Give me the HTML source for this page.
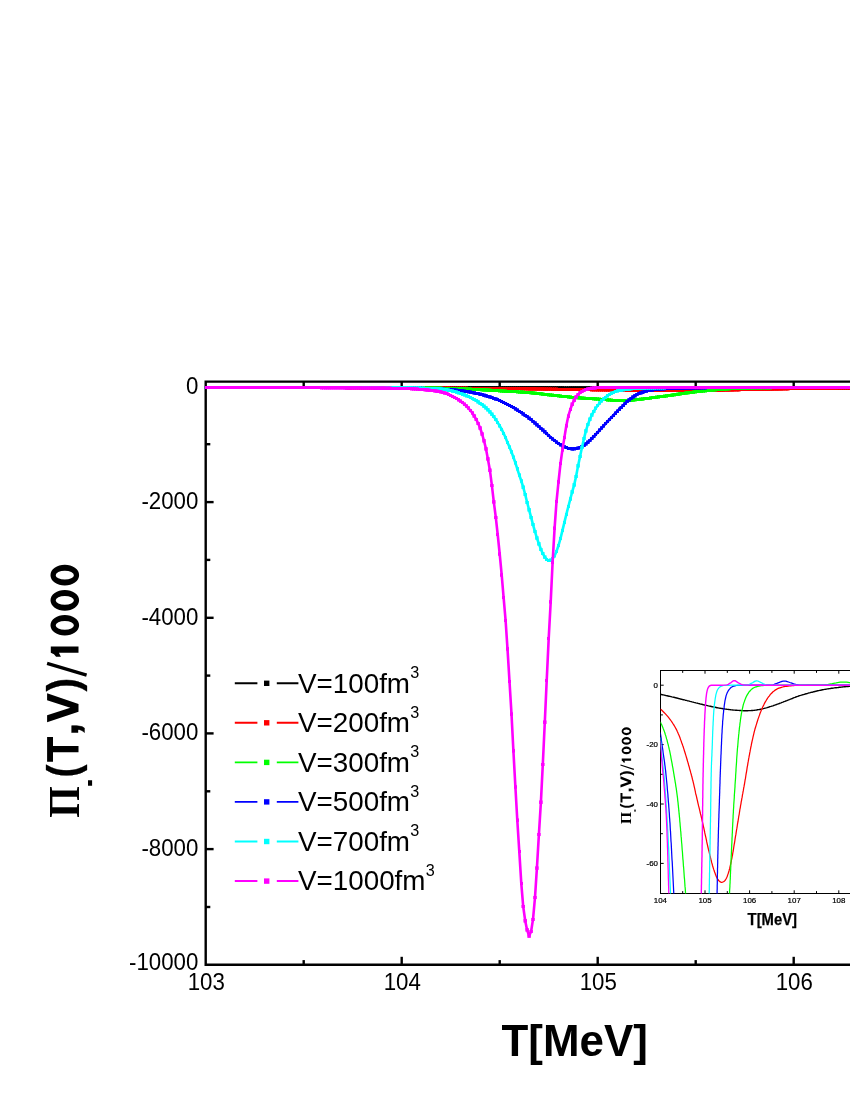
<!DOCTYPE html>
<html><head><meta charset="utf-8"><title>chart</title>
<style>html,body{margin:0;padding:0;background:#fff}svg{display:block;will-change:transform}text{font-family:"Liberation Sans",sans-serif;fill:#000}.ser{font-family:"Liberation Serif",serif}</style></head><body>
<svg width="850" height="1100" viewBox="0 0 850 1100">
<rect width="850" height="1100" fill="#fff"/>
<g stroke="#000" stroke-width="2.4" fill="none" stroke-linecap="butt">
<path d="M855 381.6H205.7V964.7H855" stroke-linejoin="miter"/>
<path d="M303.7 964.7v-4.6"/>
<path d="M303.7 381.6v4.6"/>
<path d="M401.7 964.7v-7.9"/>
<path d="M401.7 381.6v7.9"/>
<path d="M499.7 964.7v-4.6"/>
<path d="M499.7 381.6v4.6"/>
<path d="M597.7 964.7v-7.9"/>
<path d="M597.7 381.6v7.9"/>
<path d="M695.7 964.7v-4.6"/>
<path d="M695.7 381.6v4.6"/>
<path d="M793.7 964.7v-7.9"/>
<path d="M793.7 381.6v7.9"/>
<path d="M205.7 444.2h4.6"/>
<path d="M205.7 502.1h7.9"/>
<path d="M205.7 559.9h4.6"/>
<path d="M205.7 617.8h7.9"/>
<path d="M205.7 675.6h4.6"/>
<path d="M205.7 733.4h7.9"/>
<path d="M205.7 791.3h4.6"/>
<path d="M205.7 849.1h7.9"/>
<path d="M205.7 907.0h4.6"/>
</g>
<defs>
<marker id="sqblack" markerUnits="userSpaceOnUse" markerWidth="3.5" markerHeight="3.5" refX="1.75" refY="1.75" orient="0"><rect width="3.5" height="3.5" fill="#000000"/></marker>
<marker id="sqred" markerUnits="userSpaceOnUse" markerWidth="3.5" markerHeight="3.5" refX="1.75" refY="1.75" orient="0"><rect width="3.5" height="3.5" fill="#ff0000"/></marker>
<marker id="sqgreen" markerUnits="userSpaceOnUse" markerWidth="3.5" markerHeight="3.5" refX="1.75" refY="1.75" orient="0"><rect width="3.5" height="3.5" fill="#00ff00"/></marker>
<marker id="sqblue" markerUnits="userSpaceOnUse" markerWidth="3.5" markerHeight="3.5" refX="1.75" refY="1.75" orient="0"><rect width="3.5" height="3.5" fill="#0000ff"/></marker>
<marker id="sqcyan" markerUnits="userSpaceOnUse" markerWidth="3.5" markerHeight="3.5" refX="1.75" refY="1.75" orient="0"><rect width="3.5" height="3.5" fill="#00ffff"/></marker>
<marker id="sqmag" markerUnits="userSpaceOnUse" markerWidth="3.5" markerHeight="3.5" refX="1.75" refY="1.75" orient="0"><rect width="3.5" height="3.5" fill="#ff00ff"/></marker>
</defs>
<clipPath id="mc"><rect x="204.8" y="383" width="660" height="581"/></clipPath>
<g clip-path="url(#mc)">
<path d="M205.7,387.6 207.7,387.6 209.6,387.6 211.6,387.6 213.5,387.6 215.5,387.6 217.5,387.6 219.4,387.6 221.4,387.6 223.3,387.6 225.3,387.6 227.3,387.6 229.2,387.6 231.2,387.6 233.1,387.6 235.1,387.6 237.1,387.6 239.0,387.6 241.0,387.6 242.9,387.6 244.9,387.6 246.9,387.6 248.8,387.6 250.8,387.6 252.7,387.6 254.7,387.6 256.7,387.6 258.6,387.6 260.6,387.6 262.5,387.6 264.5,387.6 266.5,387.6 268.4,387.6 270.4,387.6 272.3,387.6 274.3,387.6 276.3,387.6 278.2,387.6 280.2,387.6 282.1,387.6 284.1,387.6 286.1,387.6 288.0,387.6 290.0,387.6 291.9,387.6 293.9,387.6 295.9,387.6 297.8,387.6 299.8,387.6 301.7,387.6 303.7,387.6 305.7,387.6 307.6,387.6 309.6,387.6 311.5,387.6 313.5,387.6 315.5,387.6 317.4,387.6 319.4,387.6 321.3,387.6 323.3,387.6 325.3,387.6 327.2,387.6 329.2,387.6 331.1,387.6 333.1,387.6 335.1,387.6 337.0,387.6 339.0,387.6 340.9,387.6 342.9,387.6 344.9,387.6 346.8,387.7 348.8,387.7 350.7,387.7 352.7,387.7 354.7,387.7 356.6,387.7 358.6,387.7 360.5,387.7 362.5,387.7 364.5,387.7 366.4,387.7 368.4,387.7 370.3,387.7 372.3,387.7 374.3,387.7 376.2,387.7 378.2,387.7 380.1,387.7 382.1,387.7 384.1,387.7 386.0,387.7 388.0,387.7 389.9,387.7 391.9,387.7 393.9,387.7 395.8,387.7 397.8,387.7 399.7,387.7 401.7,387.7 403.7,387.7 405.6,387.7 407.6,387.7 409.5,387.7 411.5,387.7 413.5,387.7 415.4,387.7 417.4,387.7 419.3,387.7 421.3,387.8 423.3,387.8 425.2,387.8 427.2,387.8 429.1,387.8 431.1,387.8 433.1,387.8 435.0,387.8 437.0,387.8 438.9,387.8 440.9,387.8 442.9,387.8 444.8,387.8 446.8,387.8 448.7,387.8 450.7,387.8 452.7,387.8 454.6,387.8 456.6,387.8 458.5,387.8 460.5,387.8 462.5,387.8 464.4,387.8 466.4,387.8 468.3,387.8 470.3,387.9 472.3,387.9 474.2,387.9 476.2,387.9 478.1,387.9 480.1,387.9 482.1,387.9 484.0,387.9 486.0,387.9 487.9,387.9 489.9,387.9 491.9,387.9 493.8,387.9 495.8,387.9 497.7,387.9 499.7,387.9 501.7,387.9 503.6,387.9 505.6,387.9 507.5,387.9 509.5,387.9 511.5,387.9 513.4,387.9 515.4,387.9 517.3,387.9 519.3,387.9 521.3,387.9 523.2,387.9 525.2,387.9 527.1,387.9 529.1,387.9 531.1,387.9 533.0,387.9 535.0,387.9 536.9,387.9 538.9,387.9 540.9,387.9 542.8,387.9 544.8,387.9 546.7,387.9 548.7,387.9 550.7,387.9 552.6,387.9 554.6,387.9 556.5,387.9 558.5,387.9 560.5,387.9 562.4,387.9 564.4,388.0 566.3,388.0 568.3,388.0 570.3,388.0 572.2,388.0 574.2,388.0 576.1,388.0 578.1,388.0 580.1,388.0 582.0,388.0 584.0,388.0 585.9,388.0 587.9,388.0 589.9,388.0 591.8,388.0 593.8,388.0 595.7,388.0 597.7,388.0 599.7,388.0 601.6,388.0 603.6,388.0 605.5,388.0 607.5,388.0 609.5,388.0 611.4,388.0 613.4,388.0 615.3,388.0 617.3,388.0 619.3,388.0 621.2,388.0 623.2,388.0 625.1,388.0 627.1,388.0 629.1,388.0 631.0,388.0 633.0,388.0 634.9,388.0 636.9,388.0 638.9,388.0 640.8,388.0 642.8,388.0 644.7,388.0 646.7,388.0 648.7,388.0 650.6,388.0 652.6,388.0 654.5,388.0 656.5,388.0 658.5,388.0 660.4,388.0 662.4,388.0 664.3,388.0 666.3,388.1 668.3,388.1 670.2,388.1 672.2,388.1 674.1,388.1 676.1,388.1 678.1,388.1 680.0,388.1 682.0,388.1 683.9,388.1 685.9,388.1 687.9,388.1 689.8,388.1 691.8,388.1 693.7,388.1 695.7,388.1 697.7,388.1 699.6,388.1 701.6,388.1 703.5,388.1 705.5,388.1 707.5,388.1 709.4,388.1 711.4,388.1 713.3,388.1 715.3,388.1 717.3,388.1 719.2,388.1 721.2,388.1 723.1,388.1 725.1,388.1 727.1,388.1 729.0,388.1 731.0,388.1 732.9,388.1 734.9,388.1 736.9,388.1 738.8,388.1 740.8,388.1 742.7,388.1 744.7,388.1 746.7,388.1 748.6,388.1 750.6,388.1 752.5,388.1 754.5,388.1 756.5,388.1 758.4,388.1 760.4,388.1 762.3,388.1 764.3,388.1 766.3,388.1 768.2,388.1 770.2,388.1 772.1,388.1 774.1,388.1 776.1,388.1 778.0,388.1 780.0,388.1 781.9,388.1 783.9,388.1 785.9,388.1 787.8,388.1 789.8,388.1 791.7,388.1 793.7,388.1 795.7,388.1 797.6,388.1 799.6,388.1 801.5,388.1 803.5,388.1 805.5,388.1 807.4,388.1 809.4,388.1 811.3,388.1 813.3,388.1 815.3,388.1 817.2,388.1 819.2,388.1 821.1,388.1 823.1,388.1 825.1,388.1 827.0,388.1 829.0,388.1 830.9,388.1 832.9,388.1 834.9,388.1 836.8,388.1 838.8,388.1 840.7,388.1 842.7,388.1 844.7,388.1 846.6,388.1 848.6,388.1 850.5,388.1 852.5,388.1" stroke="#000000" stroke-width="2.6" fill="none" stroke-linejoin="round" marker-start="url(#sqblack)" marker-mid="url(#sqblack)" marker-end="url(#sqblack)"/>
<path d="M205.7,387.6 207.7,387.6 209.6,387.6 211.6,387.6 213.5,387.6 215.5,387.6 217.5,387.6 219.4,387.6 221.4,387.6 223.3,387.6 225.3,387.6 227.3,387.6 229.2,387.6 231.2,387.6 233.1,387.6 235.1,387.6 237.1,387.6 239.0,387.6 241.0,387.6 242.9,387.6 244.9,387.6 246.9,387.6 248.8,387.6 250.8,387.6 252.7,387.6 254.7,387.6 256.7,387.6 258.6,387.6 260.6,387.6 262.5,387.6 264.5,387.6 266.5,387.6 268.4,387.6 270.4,387.6 272.3,387.6 274.3,387.6 276.3,387.6 278.2,387.6 280.2,387.6 282.1,387.6 284.1,387.6 286.1,387.6 288.0,387.6 290.0,387.6 291.9,387.6 293.9,387.6 295.9,387.6 297.8,387.6 299.8,387.6 301.7,387.7 303.7,387.7 305.7,387.7 307.6,387.7 309.6,387.7 311.5,387.7 313.5,387.7 315.5,387.7 317.4,387.7 319.4,387.7 321.3,387.7 323.3,387.7 325.3,387.7 327.2,387.7 329.2,387.7 331.1,387.7 333.1,387.7 335.1,387.7 337.0,387.7 339.0,387.7 340.9,387.7 342.9,387.7 344.9,387.7 346.8,387.8 348.8,387.8 350.7,387.8 352.7,387.8 354.7,387.8 356.6,387.8 358.6,387.8 360.5,387.8 362.5,387.8 364.5,387.8 366.4,387.8 368.4,387.8 370.3,387.8 372.3,387.8 374.3,387.8 376.2,387.9 378.2,387.9 380.1,387.9 382.1,387.9 384.1,387.9 386.0,387.9 388.0,387.9 389.9,387.9 391.9,387.9 393.9,387.9 395.8,387.9 397.8,387.9 399.7,387.9 401.7,387.9 403.7,388.0 405.6,388.0 407.6,388.0 409.5,388.0 411.5,388.0 413.5,388.0 415.4,388.0 417.4,388.0 419.3,388.0 421.3,388.0 423.3,388.0 425.2,388.0 427.2,388.0 429.1,388.1 431.1,388.1 433.1,388.1 435.0,388.1 437.0,388.1 438.9,388.1 440.9,388.1 442.9,388.1 444.8,388.1 446.8,388.1 448.7,388.1 450.7,388.2 452.7,388.2 454.6,388.2 456.6,388.2 458.5,388.2 460.5,388.2 462.5,388.2 464.4,388.2 466.4,388.2 468.3,388.3 470.3,388.3 472.3,388.3 474.2,388.3 476.2,388.3 478.1,388.3 480.1,388.3 482.1,388.4 484.0,388.4 486.0,388.4 487.9,388.4 489.9,388.4 491.9,388.4 493.8,388.5 495.8,388.5 497.7,388.5 499.7,388.5 501.7,388.5 503.6,388.6 505.6,388.6 507.5,388.6 509.5,388.6 511.5,388.6 513.4,388.7 515.4,388.7 517.3,388.7 519.3,388.7 521.3,388.8 523.2,388.8 525.2,388.8 527.1,388.8 529.1,388.9 531.1,388.9 533.0,388.9 535.0,388.9 536.9,389.0 538.9,389.0 540.9,389.0 542.8,389.0 544.8,389.1 546.7,389.1 548.7,389.1 550.7,389.1 552.6,389.2 554.6,389.2 556.5,389.2 558.5,389.3 560.5,389.3 562.4,389.3 564.4,389.4 566.3,389.4 568.3,389.4 570.3,389.4 572.2,389.5 574.2,389.5 576.1,389.5 578.1,389.6 580.1,389.6 582.0,389.6 584.0,389.6 585.9,389.7 587.9,389.7 589.9,389.7 591.8,389.8 593.8,389.8 595.7,389.8 597.7,389.9 599.7,389.9 601.6,389.9 603.6,389.9 605.5,390.0 607.5,390.0 609.5,390.0 611.4,390.1 613.4,390.1 615.3,390.1 617.3,390.2 619.3,390.2 621.2,390.2 623.2,390.2 625.1,390.3 627.1,390.3 629.1,390.3 631.0,390.3 633.0,390.4 634.9,390.4 636.9,390.4 638.9,390.4 640.8,390.4 642.8,390.5 644.7,390.5 646.7,390.5 648.7,390.5 650.6,390.5 652.6,390.5 654.5,390.6 656.5,390.6 658.5,390.6 660.4,390.6 662.4,390.6 664.3,390.6 666.3,390.6 668.3,390.6 670.2,390.6 672.2,390.6 674.1,390.6 676.1,390.6 678.1,390.6 680.0,390.6 682.0,390.6 683.9,390.6 685.9,390.6 687.9,390.6 689.8,390.5 691.8,390.5 693.7,390.5 695.7,390.5 697.7,390.5 699.6,390.5 701.6,390.4 703.5,390.4 705.5,390.4 707.5,390.4 709.4,390.3 711.4,390.3 713.3,390.3 715.3,390.2 717.3,390.2 719.2,390.2 721.2,390.1 723.1,390.1 725.1,390.0 727.1,390.0 729.0,390.0 731.0,389.9 732.9,389.9 734.9,389.8 736.9,389.8 738.8,389.8 740.8,389.7 742.7,389.7 744.7,389.6 746.7,389.6 748.6,389.5 750.6,389.5 752.5,389.5 754.5,389.4 756.5,389.4 758.4,389.3 760.4,389.3 762.3,389.3 764.3,389.2 766.3,389.2 768.2,389.2 770.2,389.1 772.1,389.1 774.1,389.0 776.1,389.0 778.0,389.0 780.0,388.9 781.9,388.9 783.9,388.8 785.9,388.8 787.8,388.8 789.8,388.7 791.7,388.7 793.7,388.6 795.7,388.6 797.6,388.6 799.6,388.5 801.5,388.5 803.5,388.5 805.5,388.4 807.4,388.4 809.4,388.4 811.3,388.3 813.3,388.3 815.3,388.3 817.2,388.3 819.2,388.2 821.1,388.2 823.1,388.2 825.1,388.2 827.0,388.2 829.0,388.1 830.9,388.1 832.9,388.1 834.9,388.1 836.8,388.1 838.8,388.0 840.7,388.0 842.7,388.0 844.7,388.0 846.6,388.0 848.6,388.0 850.5,387.9 852.5,387.9" stroke="#ff0000" stroke-width="2.6" fill="none" stroke-linejoin="round" marker-start="url(#sqred)" marker-mid="url(#sqred)" marker-end="url(#sqred)"/>
<path d="M205.7,387.6 207.7,387.6 209.6,387.6 211.6,387.6 213.5,387.6 215.5,387.6 217.5,387.6 219.4,387.6 221.4,387.6 223.3,387.6 225.3,387.6 227.3,387.6 229.2,387.6 231.2,387.6 233.1,387.6 235.1,387.6 237.1,387.6 239.0,387.6 241.0,387.6 242.9,387.6 244.9,387.6 246.9,387.6 248.8,387.6 250.8,387.6 252.7,387.6 254.7,387.6 256.7,387.6 258.6,387.6 260.6,387.6 262.5,387.6 264.5,387.6 266.5,387.6 268.4,387.6 270.4,387.6 272.3,387.6 274.3,387.6 276.3,387.6 278.2,387.6 280.2,387.6 282.1,387.6 284.1,387.6 286.1,387.6 288.0,387.6 290.0,387.6 291.9,387.6 293.9,387.6 295.9,387.6 297.8,387.6 299.8,387.6 301.7,387.6 303.7,387.6 305.7,387.6 307.6,387.6 309.6,387.7 311.5,387.7 313.5,387.7 315.5,387.7 317.4,387.7 319.4,387.7 321.3,387.7 323.3,387.7 325.3,387.7 327.2,387.7 329.2,387.7 331.1,387.7 333.1,387.7 335.1,387.7 337.0,387.7 339.0,387.7 340.9,387.7 342.9,387.7 344.9,387.7 346.8,387.7 348.8,387.7 350.7,387.7 352.7,387.7 354.7,387.7 356.6,387.7 358.6,387.7 360.5,387.7 362.5,387.7 364.5,387.7 366.4,387.7 368.4,387.7 370.3,387.7 372.3,387.7 374.3,387.7 376.2,387.8 378.2,387.8 380.1,387.8 382.1,387.8 384.1,387.8 386.0,387.8 388.0,387.8 389.9,387.8 391.9,387.8 393.9,387.8 395.8,387.8 397.8,387.8 399.7,387.8 401.7,387.8 403.7,387.8 405.6,387.8 407.6,387.8 409.5,387.8 411.5,387.9 413.5,387.9 415.4,387.9 417.4,387.9 419.3,387.9 421.3,388.0 423.3,388.0 425.2,388.0 427.2,388.0 429.1,388.1 431.1,388.1 433.1,388.1 435.0,388.1 437.0,388.2 438.9,388.2 440.9,388.2 442.9,388.3 444.8,388.3 446.8,388.4 448.7,388.4 450.7,388.4 452.7,388.5 454.6,388.5 456.6,388.6 458.5,388.6 460.5,388.7 462.5,388.8 464.4,388.9 466.4,389.0 468.3,389.1 470.3,389.2 472.3,389.3 474.2,389.4 476.2,389.5 478.1,389.6 480.1,389.7 482.1,389.8 484.0,389.9 486.0,390.0 487.9,390.1 489.9,390.2 491.9,390.4 493.8,390.5 495.8,390.6 497.7,390.7 499.7,390.8 501.7,391.0 503.6,391.1 505.6,391.2 507.5,391.3 509.5,391.4 511.5,391.5 513.4,391.6 515.4,391.7 517.3,391.8 519.3,392.0 521.3,392.1 523.2,392.2 525.2,392.3 527.1,392.5 529.1,392.6 531.1,392.8 533.0,393.0 535.0,393.2 536.9,393.4 538.9,393.6 540.9,393.8 542.8,394.1 544.8,394.3 546.7,394.5 548.7,394.8 550.7,395.0 552.6,395.2 554.6,395.4 556.5,395.6 558.5,395.8 560.5,396.1 562.4,396.3 564.4,396.5 566.3,396.7 568.3,396.9 570.3,397.1 572.2,397.3 574.2,397.5 576.1,397.6 578.1,397.8 580.1,397.9 582.0,398.1 584.0,398.2 585.9,398.3 587.9,398.4 589.9,398.6 591.8,398.7 593.8,398.8 595.7,398.9 597.7,399.0 599.7,399.2 601.6,399.3 603.6,399.5 605.5,399.7 607.5,399.9 609.5,400.0 611.4,400.2 613.4,400.3 615.3,400.3 617.3,400.4 619.3,400.4 621.2,400.5 623.2,400.5 625.1,400.5 627.1,400.4 629.1,400.3 631.0,400.2 633.0,400.0 634.9,399.8 636.9,399.6 638.9,399.4 640.8,399.2 642.8,399.0 644.7,398.7 646.7,398.5 648.7,398.3 650.6,398.0 652.6,397.7 654.5,397.5 656.5,397.2 658.5,396.9 660.4,396.7 662.4,396.4 664.3,396.2 666.3,395.9 668.3,395.6 670.2,395.4 672.2,395.1 674.1,394.8 676.1,394.5 678.1,394.2 680.0,393.9 682.0,393.6 683.9,393.3 685.9,393.0 687.9,392.8 689.8,392.5 691.8,392.3 693.7,392.1 695.7,391.8 697.7,391.6 699.6,391.4 701.6,391.2 703.5,391.0 705.5,390.8 707.5,390.6 709.4,390.3 711.4,390.1 713.3,390.0 715.3,389.8 717.3,389.6 719.2,389.5 721.2,389.3 723.1,389.2 725.1,389.1 727.1,388.9 729.0,388.8 731.0,388.7 732.9,388.6 734.9,388.5 736.9,388.4 738.8,388.3 740.8,388.3 742.7,388.2 744.7,388.2 746.7,388.1 748.6,388.1 750.6,388.0 752.5,388.0 754.5,387.9 756.5,387.9 758.4,387.9 760.4,387.9 762.3,387.8 764.3,387.8 766.3,387.8 768.2,387.8 770.2,387.8 772.1,387.7 774.1,387.7 776.1,387.7 778.0,387.7 780.0,387.7 781.9,387.7 783.9,387.7 785.9,387.6 787.8,387.6 789.8,387.6 791.7,387.6 793.7,387.6 795.7,387.6 797.6,387.6 799.6,387.6 801.5,387.6 803.5,387.6 805.5,387.6 807.4,387.6 809.4,387.6 811.3,387.6 813.3,387.6 815.3,387.6 817.2,387.6 819.2,387.6 821.1,387.6 823.1,387.6 825.1,387.6 827.0,387.6 829.0,387.6 830.9,387.6 832.9,387.6 834.9,387.6 836.8,387.6 838.8,387.6 840.7,387.6 842.7,387.6 844.7,387.6 846.6,387.6 848.6,387.6 850.5,387.6 852.5,387.6" stroke="#00ff00" stroke-width="2.6" fill="none" stroke-linejoin="round" marker-start="url(#sqgreen)" marker-mid="url(#sqgreen)" marker-end="url(#sqgreen)"/>
<path d="M205.7,387.6 207.7,387.6 209.6,387.6 211.6,387.6 213.5,387.6 215.5,387.6 217.5,387.6 219.4,387.6 221.4,387.6 223.3,387.6 225.3,387.6 227.3,387.6 229.2,387.6 231.2,387.6 233.1,387.6 235.1,387.6 237.1,387.6 239.0,387.6 241.0,387.6 242.9,387.6 244.9,387.6 246.9,387.6 248.8,387.6 250.8,387.6 252.7,387.6 254.7,387.6 256.7,387.6 258.6,387.6 260.6,387.6 262.5,387.6 264.5,387.6 266.5,387.6 268.4,387.6 270.4,387.6 272.3,387.6 274.3,387.6 276.3,387.6 278.2,387.6 280.2,387.6 282.1,387.6 284.1,387.6 286.1,387.6 288.0,387.6 290.0,387.6 291.9,387.6 293.9,387.6 295.9,387.6 297.8,387.6 299.8,387.6 301.7,387.6 303.7,387.6 305.7,387.6 307.6,387.6 309.6,387.6 311.5,387.6 313.5,387.6 315.5,387.7 317.4,387.7 319.4,387.7 321.3,387.7 323.3,387.7 325.3,387.7 327.2,387.7 329.2,387.7 331.1,387.7 333.1,387.7 335.1,387.7 337.0,387.7 339.0,387.7 340.9,387.7 342.9,387.7 344.9,387.7 346.8,387.7 348.8,387.7 350.7,387.7 352.7,387.7 354.7,387.7 356.6,387.7 358.6,387.7 360.5,387.7 362.5,387.7 364.5,387.7 366.4,387.7 368.4,387.7 370.3,387.7 372.3,387.7 374.3,387.7 376.2,387.7 378.2,387.7 380.1,387.8 382.1,387.8 384.1,387.8 386.0,387.8 388.0,387.8 389.9,387.8 391.9,387.8 393.9,387.8 395.8,387.8 397.8,387.8 399.7,387.8 401.7,387.8 403.7,387.8 405.6,387.8 407.6,387.9 409.5,387.9 411.5,387.9 413.5,388.0 415.4,388.0 417.4,388.1 419.3,388.2 421.3,388.2 423.3,388.3 425.2,388.3 427.2,388.4 429.1,388.5 431.1,388.5 433.1,388.6 435.0,388.7 437.0,388.8 438.9,388.9 440.9,389.0 442.9,389.1 444.8,389.3 446.8,389.4 448.7,389.5 450.7,389.7 452.7,389.8 454.6,390.0 456.6,390.2 458.5,390.4 460.5,390.6 462.5,390.9 464.4,391.2 466.4,391.5 468.3,391.8 470.3,392.1 472.3,392.5 474.2,392.9 476.2,393.3 478.1,393.7 480.1,394.2 482.1,394.7 484.0,395.2 486.0,395.8 487.9,396.3 489.9,396.9 491.9,397.6 493.8,398.3 495.8,399.0 497.7,399.7 499.7,400.5 501.7,401.4 503.6,402.3 505.6,403.3 507.5,404.4 509.5,405.4 511.5,406.6 513.4,407.7 515.4,408.9 517.3,410.1 519.3,411.3 521.3,412.6 523.2,414.0 525.2,415.3 527.1,416.7 529.1,418.2 531.1,419.7 533.0,421.4 535.0,423.0 536.9,424.8 538.9,426.5 540.9,428.3 542.8,430.0 544.8,431.8 546.7,433.7 548.7,435.5 550.7,437.3 552.6,439.0 554.6,440.6 556.5,442.1 558.5,443.5 560.5,444.8 562.4,445.9 564.4,446.9 566.3,447.7 568.3,448.3 570.3,448.6 572.2,448.9 574.2,448.8 576.1,448.5 578.1,448.1 580.1,447.5 582.0,446.5 584.0,445.3 585.9,443.9 587.9,442.2 589.9,440.4 591.8,438.5 593.8,436.5 595.7,434.4 597.7,432.3 599.7,430.1 601.6,428.0 603.6,425.9 605.5,423.7 607.5,421.6 609.5,419.4 611.4,417.3 613.4,415.3 615.3,413.2 617.3,411.2 619.3,409.2 621.2,407.3 623.2,405.3 625.1,403.4 627.1,401.5 629.1,399.9 631.0,398.4 633.0,397.0 634.9,395.8 636.9,394.7 638.9,393.7 640.8,392.9 642.8,392.2 644.7,391.6 646.7,391.1 648.7,390.6 650.6,390.3 652.6,390.0 654.5,389.7 656.5,389.5 658.5,389.3 660.4,389.1 662.4,389.0 664.3,388.8 666.3,388.7 668.3,388.6 670.2,388.5 672.2,388.4 674.1,388.3 676.1,388.3 678.1,388.2 680.0,388.2 682.0,388.1 683.9,388.1 685.9,388.0 687.9,388.0 689.8,387.9 691.8,387.9 693.7,387.9 695.7,387.8 697.7,387.8 699.6,387.8 701.6,387.8 703.5,387.8 705.5,387.8 707.5,387.7 709.4,387.7 711.4,387.7 713.3,387.7 715.3,387.7 717.3,387.7 719.2,387.7 721.2,387.7 723.1,387.6 725.1,387.6 727.1,387.6 729.0,387.6 731.0,387.6 732.9,387.6 734.9,387.6 736.9,387.6 738.8,387.6 740.8,387.6 742.7,387.6 744.7,387.6 746.7,387.6 748.6,387.6 750.6,387.6 752.5,387.6 754.5,387.6 756.5,387.6 758.4,387.6 760.4,387.6 762.3,387.6 764.3,387.6 766.3,387.6 768.2,387.6 770.2,387.6 772.1,387.6 774.1,387.6 776.1,387.6 778.0,387.6 780.0,387.6 781.9,387.6 783.9,387.6 785.9,387.6 787.8,387.6 789.8,387.6 791.7,387.6 793.7,387.6 795.7,387.6 797.6,387.6 799.6,387.6 801.5,387.6 803.5,387.6 805.5,387.6 807.4,387.6 809.4,387.6 811.3,387.6 813.3,387.6 815.3,387.6 817.2,387.6 819.2,387.6 821.1,387.6 823.1,387.6 825.1,387.6 827.0,387.6 829.0,387.6 830.9,387.6 832.9,387.6 834.9,387.6 836.8,387.6 838.8,387.6 840.7,387.6 842.7,387.6 844.7,387.6 846.6,387.6 848.6,387.6 850.5,387.6 852.5,387.6" stroke="#0000ff" stroke-width="2.6" fill="none" stroke-linejoin="round" marker-start="url(#sqblue)" marker-mid="url(#sqblue)" marker-end="url(#sqblue)"/>
<path d="M205.7,387.6 207.7,387.6 209.6,387.6 211.6,387.6 213.5,387.6 215.5,387.6 217.5,387.6 219.4,387.6 221.4,387.6 223.3,387.6 225.3,387.6 227.3,387.6 229.2,387.6 231.2,387.6 233.1,387.6 235.1,387.6 237.1,387.6 239.0,387.6 241.0,387.6 242.9,387.6 244.9,387.6 246.9,387.6 248.8,387.6 250.8,387.6 252.7,387.6 254.7,387.6 256.7,387.6 258.6,387.6 260.6,387.6 262.5,387.6 264.5,387.6 266.5,387.6 268.4,387.6 270.4,387.6 272.3,387.6 274.3,387.6 276.3,387.6 278.2,387.6 280.2,387.6 282.1,387.6 284.1,387.6 286.1,387.6 288.0,387.6 290.0,387.6 291.9,387.6 293.9,387.6 295.9,387.6 297.8,387.6 299.8,387.6 301.7,387.6 303.7,387.6 305.7,387.6 307.6,387.6 309.6,387.6 311.5,387.6 313.5,387.6 315.5,387.7 317.4,387.7 319.4,387.7 321.3,387.7 323.3,387.7 325.3,387.7 327.2,387.7 329.2,387.7 331.1,387.7 333.1,387.7 335.1,387.7 337.0,387.7 339.0,387.7 340.9,387.7 342.9,387.7 344.9,387.7 346.8,387.7 348.8,387.7 350.7,387.7 352.7,387.7 354.7,387.7 356.6,387.7 358.6,387.7 360.5,387.7 362.5,387.7 364.5,387.7 366.4,387.7 368.4,387.7 370.3,387.7 372.3,387.7 374.3,387.7 376.2,387.7 378.2,387.8 380.1,387.8 382.1,387.8 384.1,387.8 386.0,387.8 388.0,387.8 389.9,387.8 391.9,387.8 393.9,387.8 395.8,387.8 397.8,387.8 399.7,387.8 401.7,387.8 403.7,387.8 405.6,387.8 407.6,387.9 409.5,387.9 411.5,387.9 413.5,388.0 415.4,388.0 417.4,388.0 419.3,388.1 421.3,388.2 423.3,388.2 425.2,388.3 427.2,388.4 429.1,388.4 431.1,388.5 433.1,388.6 435.0,388.7 437.0,388.8 438.9,388.9 440.9,389.0 442.9,389.2 444.8,389.4 446.8,389.8 448.7,390.2 450.7,390.6 452.7,391.1 454.6,391.6 456.6,392.1 458.5,392.8 460.5,393.4 462.5,394.2 464.4,394.9 466.4,395.8 468.3,396.6 470.3,397.6 472.3,398.6 474.2,399.6 476.2,400.7 478.1,401.9 480.1,403.3 482.1,404.7 484.0,406.2 486.0,407.9 487.9,409.8 489.9,411.9 491.9,414.2 493.8,416.7 495.8,419.5 497.7,422.6 499.7,425.8 501.7,429.4 503.6,433.3 505.6,437.7 507.5,442.4 509.5,447.1 511.5,451.9 513.4,457.2 515.4,462.8 517.3,468.8 519.3,475.1 521.3,481.0 523.2,487.2 525.2,494.5 527.1,502.3 529.1,509.8 531.1,517.4 533.0,524.7 535.0,531.6 536.9,538.0 538.9,543.9 540.9,549.3 542.8,553.7 544.8,557.1 546.7,559.3 548.7,560.6 550.7,560.2 552.6,558.6 554.6,555.8 556.5,551.4 558.5,545.5 560.5,538.5 562.4,530.6 564.4,522.4 566.3,514.5 568.3,506.7 570.3,499.0 572.2,491.9 574.2,484.9 576.1,476.3 578.1,465.8 580.1,456.3 582.0,447.3 584.0,438.6 585.9,430.9 587.9,424.4 589.9,419.2 591.8,415.0 593.8,411.4 595.7,408.2 597.7,405.5 599.7,403.0 601.6,400.9 603.6,399.0 605.5,397.3 607.5,395.8 609.5,394.4 611.4,393.2 613.4,392.3 615.3,391.5 617.3,390.9 619.3,390.5 621.2,390.1 623.2,389.8 625.1,389.5 627.1,389.3 629.1,389.1 631.0,388.8 633.0,388.6 634.9,388.5 636.9,388.4 638.9,388.3 640.8,388.2 642.8,388.1 644.7,388.1 646.7,388.0 648.7,388.0 650.6,387.9 652.6,387.9 654.5,387.9 656.5,387.8 658.5,387.8 660.4,387.8 662.4,387.8 664.3,387.8 666.3,387.7 668.3,387.7 670.2,387.7 672.2,387.7 674.1,387.7 676.1,387.7 678.1,387.7 680.0,387.7 682.0,387.6 683.9,387.6 685.9,387.6 687.9,387.6 689.8,387.6 691.8,387.6 693.7,387.6 695.7,387.6 697.7,387.6 699.6,387.6 701.6,387.6 703.5,387.6 705.5,387.6 707.5,387.6 709.4,387.6 711.4,387.6 713.3,387.6 715.3,387.6 717.3,387.6 719.2,387.6 721.2,387.6 723.1,387.6 725.1,387.6 727.1,387.6 729.0,387.6 731.0,387.6 732.9,387.6 734.9,387.6 736.9,387.6 738.8,387.6 740.8,387.6 742.7,387.6 744.7,387.6 746.7,387.6 748.6,387.6 750.6,387.6 752.5,387.6 754.5,387.6 756.5,387.6 758.4,387.6 760.4,387.6 762.3,387.6 764.3,387.6 766.3,387.6 768.2,387.6 770.2,387.6 772.1,387.6 774.1,387.6 776.1,387.6 778.0,387.6 780.0,387.6 781.9,387.6 783.9,387.6 785.9,387.6 787.8,387.6 789.8,387.6 791.7,387.6 793.7,387.6 795.7,387.6 797.6,387.6 799.6,387.6 801.5,387.6 803.5,387.6 805.5,387.6 807.4,387.6 809.4,387.6 811.3,387.6 813.3,387.6 815.3,387.6 817.2,387.6 819.2,387.6 821.1,387.6 823.1,387.6 825.1,387.6 827.0,387.6 829.0,387.6 830.9,387.6 832.9,387.6 834.9,387.6 836.8,387.6 838.8,387.6 840.7,387.6 842.7,387.6 844.7,387.6 846.6,387.6 848.6,387.6 850.5,387.6 852.5,387.6" stroke="#00ffff" stroke-width="2.6" fill="none" stroke-linejoin="round" marker-start="url(#sqcyan)" marker-mid="url(#sqcyan)" marker-end="url(#sqcyan)"/>
<path d="M205.7,387.6 207.7,387.6 209.6,387.6 211.6,387.6 213.5,387.6 215.5,387.6 217.5,387.6 219.4,387.6 221.4,387.6 223.3,387.6 225.3,387.6 227.3,387.6 229.2,387.6 231.2,387.6 233.1,387.6 235.1,387.6 237.1,387.6 239.0,387.6 241.0,387.6 242.9,387.6 244.9,387.6 246.9,387.6 248.8,387.6 250.8,387.6 252.7,387.6 254.7,387.6 256.7,387.6 258.6,387.6 260.6,387.6 262.5,387.6 264.5,387.6 266.5,387.6 268.4,387.6 270.4,387.7 272.3,387.7 274.3,387.7 276.3,387.7 278.2,387.7 280.2,387.7 282.1,387.7 284.1,387.7 286.1,387.7 288.0,387.7 290.0,387.7 291.9,387.7 293.9,387.7 295.9,387.7 297.8,387.7 299.8,387.7 301.7,387.7 303.7,387.7 305.7,387.7 307.6,387.7 309.6,387.7 311.5,387.7 313.5,387.7 315.5,387.7 317.4,387.7 319.4,387.7 321.3,387.8 323.3,387.8 325.3,387.8 327.2,387.8 329.2,387.8 331.1,387.8 333.1,387.8 335.1,387.8 337.0,387.8 339.0,387.8 340.9,387.8 342.9,387.8 344.9,387.9 346.8,387.9 348.8,387.9 350.7,387.9 352.7,387.9 354.7,387.9 356.6,387.9 358.6,387.9 360.5,387.9 362.5,388.0 364.5,388.0 366.4,388.0 368.4,388.0 370.3,388.0 372.3,388.0 374.3,388.1 376.2,388.1 378.2,388.1 380.1,388.1 382.1,388.1 384.1,388.1 386.0,388.2 388.0,388.2 389.9,388.2 391.9,388.3 393.9,388.3 395.8,388.3 397.8,388.4 399.7,388.4 401.7,388.5 403.7,388.5 405.6,388.6 407.6,388.6 409.5,388.7 411.5,388.8 413.5,388.9 415.4,389.0 417.4,389.1 419.3,389.3 421.3,389.4 423.3,389.6 425.2,389.8 427.2,390.0 429.1,390.2 431.1,390.4 433.1,390.7 435.0,390.9 437.0,391.2 438.9,391.5 440.9,391.9 442.9,392.4 444.8,393.0 446.8,393.7 448.7,394.5 450.7,395.4 452.7,396.4 454.6,397.4 456.6,398.5 458.5,399.8 460.5,401.1 462.5,402.6 464.4,404.2 466.4,406.0 468.3,408.0 470.3,410.3 472.3,413.0 474.2,416.0 476.2,419.4 478.1,423.3 480.1,428.0 482.1,434.0 484.0,440.8 486.0,448.9 487.9,458.9 489.9,470.2 491.9,485.7 493.8,501.9 495.8,517.4 497.7,534.5 499.7,554.0 501.7,575.0 503.6,597.4 505.6,620.5 507.5,648.9 509.5,681.5 511.5,714.1 513.4,750.8 515.4,787.0 517.3,820.2 519.3,851.7 521.3,883.6 523.2,906.4 525.2,920.8 527.1,929.9 529.1,936.1 531.1,931.5 533.0,919.4 535.0,897.5 536.9,868.1 538.9,834.3 540.9,802.2 542.8,764.4 544.8,722.2 546.7,680.6 548.7,638.4 550.7,601.9 552.6,562.3 554.6,528.2 556.5,501.7 558.5,481.9 560.5,463.5 562.4,449.9 564.4,437.6 566.3,425.8 568.3,416.2 570.3,409.5 572.2,404.2 574.2,400.2 576.1,396.9 578.1,394.5 580.1,392.7 582.0,391.4 584.0,390.4 585.9,389.6 587.9,389.0 589.9,388.6 591.8,388.2 593.8,388.0 595.7,387.8 597.7,387.7 599.7,387.6 601.6,387.6 603.6,387.5 605.5,387.5 607.5,387.5 609.5,387.5 611.4,387.5 613.4,387.5 615.3,387.5 617.3,387.5 619.3,387.5 621.2,387.5 623.2,387.5 625.1,387.5 627.1,387.5 629.1,387.5 631.0,387.5 633.0,387.5 634.9,387.5 636.9,387.5 638.9,387.5 640.8,387.5 642.8,387.5 644.7,387.5 646.7,387.5 648.7,387.5 650.6,387.5 652.6,387.5 654.5,387.5 656.5,387.5 658.5,387.5 660.4,387.5 662.4,387.5 664.3,387.5 666.3,387.5 668.3,387.5 670.2,387.5 672.2,387.5 674.1,387.5 676.1,387.5 678.1,387.5 680.0,387.5 682.0,387.5 683.9,387.5 685.9,387.5 687.9,387.5 689.8,387.5 691.8,387.5 693.7,387.5 695.7,387.5 697.7,387.5 699.6,387.5 701.6,387.5 703.5,387.5 705.5,387.5 707.5,387.5 709.4,387.5 711.4,387.5 713.3,387.5 715.3,387.5 717.3,387.5 719.2,387.5 721.2,387.5 723.1,387.5 725.1,387.5 727.1,387.5 729.0,387.5 731.0,387.5 732.9,387.5 734.9,387.5 736.9,387.5 738.8,387.5 740.8,387.5 742.7,387.5 744.7,387.5 746.7,387.5 748.6,387.5 750.6,387.5 752.5,387.5 754.5,387.5 756.5,387.5 758.4,387.5 760.4,387.5 762.3,387.5 764.3,387.5 766.3,387.5 768.2,387.5 770.2,387.5 772.1,387.5 774.1,387.5 776.1,387.5 778.0,387.5 780.0,387.5 781.9,387.5 783.9,387.5 785.9,387.5 787.8,387.5 789.8,387.5 791.7,387.5 793.7,387.5 795.7,387.5 797.6,387.5 799.6,387.5 801.5,387.5 803.5,387.5 805.5,387.5 807.4,387.5 809.4,387.5 811.3,387.5 813.3,387.5 815.3,387.5 817.2,387.5 819.2,387.5 821.1,387.5 823.1,387.5 825.1,387.5 827.0,387.5 829.0,387.5 830.9,387.5 832.9,387.5 834.9,387.5 836.8,387.5 838.8,387.5 840.7,387.5 842.7,387.5 844.7,387.5 846.6,387.5 848.6,387.5 850.5,387.5 852.5,387.5" stroke="#ff00ff" stroke-width="2.6" fill="none" stroke-linejoin="round" marker-start="url(#sqmag)" marker-mid="url(#sqmag)" marker-end="url(#sqmag)"/>
</g>
<g font-size="22.3px">
<text transform="translate(198.4 394.0) scale(1 1.045)" text-anchor="end">0</text>
<text transform="translate(198.4 509.1) scale(1 1.045)" text-anchor="end">-2000</text>
<text transform="translate(198.4 624.8) scale(1 1.045)" text-anchor="end">-4000</text>
<text transform="translate(198.4 740.4) scale(1 1.045)" text-anchor="end">-6000</text>
<text transform="translate(198.4 856.1) scale(1 1.045)" text-anchor="end">-8000</text>
<text transform="translate(198.4 970.4) scale(1 1.045)" text-anchor="end">-10000</text>
<text transform="translate(206.3 990.3) scale(1 1.045)" text-anchor="middle">103</text>
<text transform="translate(402.3 990.3) scale(1 1.045)" text-anchor="middle">104</text>
<text transform="translate(598.3 990.3) scale(1 1.045)" text-anchor="middle">105</text>
<text transform="translate(794.3 990.3) scale(1 1.045)" text-anchor="middle">106</text>
</g>
<g>
<path d="M234.8 683.3H257.4M276.8 683.3H298.4" stroke="#000000" stroke-width="1.9" fill="none"/>
<rect x="264.0" y="680.6" width="5.4" height="5.4" fill="#000000"/>
<text x="298.0" y="692.7" font-size="27.8px">V=100fm<tspan font-size="16.2px" dx="0.3" dy="-14.6">3</tspan></text>
<path d="M234.8 722.8H257.4M276.8 722.8H298.4" stroke="#ff0000" stroke-width="1.9" fill="none"/>
<rect x="264.0" y="720.1" width="5.4" height="5.4" fill="#ff0000"/>
<text x="298.0" y="732.2" font-size="27.8px">V=200fm<tspan font-size="16.2px" dx="0.3" dy="-14.6">3</tspan></text>
<path d="M234.8 762.4H257.4M276.8 762.4H298.4" stroke="#00ff00" stroke-width="1.9" fill="none"/>
<rect x="264.0" y="759.7" width="5.4" height="5.4" fill="#00ff00"/>
<text x="298.0" y="771.8" font-size="27.8px">V=300fm<tspan font-size="16.2px" dx="0.3" dy="-14.6">3</tspan></text>
<path d="M234.8 801.9H257.4M276.8 801.9H298.4" stroke="#0000ff" stroke-width="1.9" fill="none"/>
<rect x="264.0" y="799.2" width="5.4" height="5.4" fill="#0000ff"/>
<text x="298.0" y="811.3" font-size="27.8px">V=500fm<tspan font-size="16.2px" dx="0.3" dy="-14.6">3</tspan></text>
<path d="M234.8 841.5H257.4M276.8 841.5H298.4" stroke="#00ffff" stroke-width="1.9" fill="none"/>
<rect x="264.0" y="838.8" width="5.4" height="5.4" fill="#00ffff"/>
<text x="298.0" y="850.9" font-size="27.8px">V=700fm<tspan font-size="16.2px" dx="0.3" dy="-14.6">3</tspan></text>
<path d="M234.8 881.0H257.4M276.8 881.0H298.4" stroke="#ff00ff" stroke-width="1.9" fill="none"/>
<rect x="264.0" y="878.4" width="5.4" height="5.4" fill="#ff00ff"/>
<text x="298.0" y="890.4" font-size="27.8px">V=1000fm<tspan font-size="16.2px" dx="0.3" dy="-14.6">3</tspan></text>
</g>
<text x="501.5" y="1055.8" font-size="43.9px" font-weight="bold">T[MeV]</text>
<g transform="translate(78.5 817.05) rotate(-90) scale(1 1)" fill="#000"><text transform="translate(0.00 0.00) scale(0.9094 1.0110) translate(-0.89 0)" font-size="44.7px" font-weight="bold" style="font-family:'Liberation Serif',serif">Π</text><rect x="31.3" y="9.5" width="5.5" height="4.1"/><text transform="translate(41.50 -0.47) scale(0.8726 0.9975) translate(-2.24 0)" font-size="44.7px" font-weight="bold" style="font-family:'Liberation Sans',sans-serif" stroke="#000" stroke-width="0.3" stroke-linejoin="round">(</text><path d="M55.3 -31.4H80.0V-25.5H71.1V0H64.9V-25.5H55.3Z"/><text transform="translate(84.50 -0.53) scale(1.0638 0.9567) translate(-3.04 0)" font-size="44.7px" font-weight="bold" style="font-family:'Liberation Sans',sans-serif" stroke="#000" stroke-width="0.4" stroke-linejoin="round">,</text><path d="M94.7 -31.4H101.9L109.2 -8.2L116.9 -31.4H123.8L113.1 0H105.4Z"/><text transform="translate(125.70 -0.47) scale(0.9123 0.9975) translate(-0.04 0)" font-size="44.7px" font-weight="bold" style="font-family:'Liberation Sans',sans-serif" stroke="#000" stroke-width="0.3" stroke-linejoin="round">)</text><path d="M142.0 8.1L153.6 -31.4" stroke="#000" stroke-width="3.3" fill="none"/><path d="M164.4 -27.7H170.6V0H164.4V-19.6L160.4 -17.6V-22.4Q163.6 -24 164.4 -27.7Z"/><path fill-rule="evenodd" d="M181.45 -13.7a10.3 14.3 0 1 0 20.6 0a10.3 14.3 0 1 0 -20.6 0ZM187.35 -13.7a4.4 9.1 0 1 0 8.8 0a4.4 9.1 0 1 0 -8.8 0Z"/><path fill-rule="evenodd" d="M206.40 -13.7a10.3 14.3 0 1 0 20.6 0a10.3 14.3 0 1 0 -20.6 0ZM212.30 -13.7a4.4 9.1 0 1 0 8.8 0a4.4 9.1 0 1 0 -8.8 0Z"/><path fill-rule="evenodd" d="M231.60 -13.7a10.3 14.3 0 1 0 20.6 0a10.3 14.3 0 1 0 -20.6 0ZM237.50 -13.7a4.4 9.1 0 1 0 8.8 0a4.4 9.1 0 1 0 -8.8 0Z"/></g>
<g>
<clipPath id="ic"><rect x="660.5" y="670.5" width="194.5" height="223.0"/></clipPath>
<g stroke="#000" stroke-width="1" fill="none">
<path d="M660.5 894.0V670.0M660.0 670.5H850M660.0 893.5H850"/>
<path d="M682.7 893.5v-2.4M682.7 670.5v2.4"/>
<path d="M705.0 893.5v-3.2M705.0 670.5v3.2"/>
<path d="M727.3 893.5v-2.4M727.3 670.5v2.4"/>
<path d="M749.6 893.5v-3.2M749.6 670.5v3.2"/>
<path d="M771.9 893.5v-2.4M771.9 670.5v2.4"/>
<path d="M794.2 893.5v-3.2M794.2 670.5v3.2"/>
<path d="M816.5 893.5v-2.4M816.5 670.5v2.4"/>
<path d="M838.8 893.5v-3.2M838.8 670.5v3.2"/>
<path d="M660.5 685.2h3.2"/>
<path d="M660.5 714.9h2.4"/>
<path d="M660.5 744.6h3.2"/>
<path d="M660.5 774.3h2.4"/>
<path d="M660.5 804.0h3.2"/>
<path d="M660.5 833.7h2.4"/>
<path d="M660.5 863.4h3.2"/>
</g>
<g clip-path="url(#ic)">
<path d="M660.3 694.3L661.3 694.5L662.2 694.7L663.2 694.9L664.2 695.1L665.1 695.3L666.1 695.6L667.1 695.8L668.0 696.0L669.0 696.2L670.0 696.4L670.9 696.6L671.9 696.9L672.9 697.1L673.8 697.3L674.8 697.5L675.7 697.8L676.7 698.0L677.7 698.2L678.6 698.5L679.6 698.7L680.5 699.0L681.5 699.2L682.5 699.5L683.4 699.7L684.4 699.9L685.3 700.2L686.3 700.4L687.3 700.7L688.2 700.9L689.2 701.1L690.1 701.4L691.1 701.6L692.1 701.9L693.0 702.1L694.0 702.4L694.9 702.6L695.9 702.9L696.9 703.1L697.8 703.3L698.8 703.6L699.7 703.8L700.7 704.1L701.7 704.3L702.6 704.5L703.6 704.8L704.5 705.0L705.5 705.2L706.5 705.4L707.4 705.6L708.4 705.9L709.4 706.1L710.3 706.3L711.3 706.5L712.3 706.7L713.2 706.9L714.2 707.1L715.2 707.3L716.1 707.5L717.1 707.7L718.1 707.9L719.1 708.1L720.0 708.2L721.0 708.4L722.0 708.5L723.0 708.7L723.9 708.8L724.9 709.0L725.9 709.1L726.9 709.3L727.9 709.4L728.8 709.5L729.8 709.6L730.8 709.8L731.8 709.9L732.8 710.0L733.8 710.1L734.8 710.1L735.7 710.2L736.7 710.3L737.7 710.4L738.7 710.4L739.7 710.5L740.7 710.5L741.7 710.6L742.7 710.6L743.6 710.7L744.6 710.7L745.6 710.7L746.6 710.7L747.6 710.7L748.6 710.6L749.6 710.6L750.6 710.6L751.6 710.5L752.5 710.5L753.5 710.4L754.5 710.3L755.5 710.1L756.5 710.0L757.5 709.8L758.4 709.6L759.4 709.5L760.4 709.3L761.3 709.1L762.3 708.9L763.3 708.6L764.2 708.4L765.2 708.1L766.1 707.9L767.1 707.6L768.0 707.3L769.0 707.0L769.9 706.7L770.9 706.4L771.8 706.1L772.8 705.8L773.7 705.5L774.6 705.2L775.6 704.8L776.5 704.5L777.4 704.2L778.4 703.8L779.3 703.5L780.2 703.1L781.1 702.8L782.1 702.4L783.0 702.1L783.9 701.7L784.8 701.4L785.8 701.0L786.7 700.7L787.6 700.3L788.5 699.9L789.4 699.6L790.4 699.2L791.3 698.8L792.2 698.5L793.1 698.1L794.0 697.7L795.0 697.4L795.9 697.0L796.8 696.7L797.7 696.4L798.7 696.0L799.6 695.7L800.6 695.4L801.5 695.1L802.5 694.8L803.4 694.6L804.3 694.3L805.3 694.0L806.3 693.7L807.2 693.5L808.2 693.2L809.1 692.9L810.1 692.7L811.0 692.4L812.0 692.2L812.9 692.0L813.9 691.7L814.9 691.5L815.8 691.3L816.8 691.0L817.8 690.8L818.7 690.6L819.7 690.4L820.7 690.2L821.6 690.0L822.6 689.8L823.6 689.6L824.5 689.4L825.5 689.3L826.5 689.1L827.5 688.9L828.5 688.8L829.4 688.6L830.4 688.5L831.4 688.3L832.4 688.2L833.4 688.1L834.3 687.9L835.3 687.8L836.3 687.7L837.3 687.6L838.3 687.5L839.2 687.3L840.2 687.2L841.2 687.1L842.2 687.0L843.2 686.9L844.2 686.8L845.1 686.7L846.1 686.6L847.1 686.5L848.1 686.5L849.1 686.4L850.1 686.3L851.1 686.2L852.0 686.1L853.0 686.1L854.0 686.0L855.0 686.0L856.0 685.9" stroke="#000000" stroke-width="1.4" fill="none" stroke-linejoin="round"/>
<path d="M660.3 708.9L661.3 709.8L662.3 710.7L663.3 711.7L664.3 712.7L665.2 713.6L666.1 714.6L667.0 715.6L667.9 716.7L668.7 717.7L669.6 718.8L670.4 719.9L671.2 721.0L672.0 722.1L672.7 723.3L673.5 724.4L674.2 725.6L674.9 726.8L675.5 727.9L676.2 729.1L676.8 730.3L677.3 731.5L677.9 732.8L678.4 734.0L679.0 735.3L679.5 736.5L680.0 737.8L680.4 739.1L680.9 740.4L681.4 741.7L681.8 743.0L682.3 744.2L682.7 745.5L683.2 746.8L683.6 748.1L684.0 749.4L684.4 750.7L684.8 752.0L685.2 753.3L685.6 754.6L686.0 755.9L686.4 757.2L686.8 758.5L687.1 759.8L687.5 761.1L687.9 762.4L688.3 763.7L688.6 765.0L689.0 766.3L689.4 767.6L689.7 769.0L690.1 770.3L690.5 771.6L690.8 772.9L691.2 774.2L691.5 775.5L691.9 776.8L692.2 778.1L692.5 779.5L692.9 780.8L693.2 782.1L693.5 783.4L693.8 784.7L694.1 786.1L694.4 787.4L694.7 788.7L695.0 790.1L695.3 791.4L695.5 792.7L695.8 794.0L696.2 795.4L696.5 796.7L696.8 798.0L697.1 799.3L697.4 800.7L697.7 802.0L698.0 803.3L698.3 804.6L698.6 805.9L699.0 807.3L699.3 808.6L699.6 809.9L699.9 811.2L700.2 812.5L700.5 813.9L700.9 815.2L701.2 816.5L701.5 817.8L701.8 819.2L702.1 820.5L702.4 821.8L702.7 823.1L703.0 824.5L703.3 825.8L703.6 827.1L703.9 828.4L704.2 829.8L704.5 831.1L704.7 832.4L705.0 833.8L705.3 835.1L705.6 836.4L705.9 837.7L706.2 839.1L706.5 840.4L706.7 841.7L707.0 843.1L707.3 844.4L707.6 845.7L707.9 847.0L708.2 848.4L708.5 849.7L708.9 851.0L709.2 852.3L709.5 853.6L709.8 855.0L710.1 856.3L710.5 857.6L710.8 858.9L711.1 860.3L711.5 861.6L711.8 862.9L712.2 864.2L712.5 865.5L712.9 866.8L713.3 868.1L713.7 869.4L714.2 870.7L714.6 872.0L715.1 873.3L715.5 874.6L716.1 876.0L716.6 877.2L717.2 878.4L717.9 879.5L718.7 880.5L719.8 881.6L721.0 882.3L722.2 882.3L723.5 881.7L724.6 880.9L725.4 880.0L726.1 878.8L726.7 877.6L727.3 876.2L727.7 874.9L728.2 873.6L728.6 872.3L729.0 871.0L729.3 869.7L729.7 868.4L730.0 867.0L730.3 865.7L730.6 864.4L730.9 863.0L731.2 861.7L731.4 860.4L731.7 859.0L732.0 857.7L732.2 856.4L732.5 855.0L732.7 853.7L732.9 852.4L733.2 851.0L733.4 849.7L733.6 848.3L733.8 847.0L734.0 845.7L734.2 844.3L734.5 843.0L734.7 841.6L734.9 840.3L735.1 838.9L735.3 837.6L735.5 836.3L735.8 834.9L736.0 833.6L736.2 832.2L736.4 830.9L736.6 829.6L736.9 828.2L737.1 826.9L737.3 825.5L737.5 824.2L737.7 822.8L738.0 821.5L738.2 820.2L738.4 818.8L738.6 817.5L738.8 816.1L739.1 814.8L739.3 813.5L739.5 812.1L739.7 810.8L739.9 809.4L740.2 808.1L740.4 806.8L740.6 805.4L740.9 804.1L741.1 802.7L741.3 801.4L741.6 800.1L741.8 798.7L742.1 797.4L742.3 796.1L742.5 794.7L742.8 793.4L743.0 792.0L743.3 790.7L743.5 789.4L743.7 788.0L744.0 786.7L744.2 785.4L744.5 784.0L744.7 782.7L744.9 781.3L745.1 780.0L745.4 778.7L745.6 777.3L745.8 776.0L746.0 774.6L746.2 773.3L746.5 772.0L746.7 770.6L746.9 769.3L747.1 767.9L747.3 766.6L747.6 765.3L747.8 763.9L748.0 762.6L748.3 761.2L748.5 759.9L748.7 758.6L749.0 757.2L749.2 755.9L749.5 754.6L749.7 753.2L750.0 751.9L750.2 750.5L750.5 749.2L750.7 747.9L751.0 746.5L751.3 745.2L751.5 743.9L751.8 742.5L752.1 741.2L752.4 739.9L752.7 738.6L753.0 737.2L753.3 735.9L753.6 734.6L753.9 733.3L754.2 732.0L754.6 730.6L754.9 729.3L755.3 728.0L755.7 726.7L756.1 725.4L756.5 724.1L756.9 722.8L757.3 721.5L757.7 720.2L758.1 718.9L758.6 717.6L759.0 716.4L759.5 715.1L759.9 713.8L760.4 712.5L760.9 711.3L761.4 710.0L762.0 708.7L762.5 707.5L763.1 706.3L763.7 705.1L764.3 703.8L764.9 702.6L765.6 701.4L766.3 700.3L767.0 699.1L767.7 698.0L768.5 696.9L769.4 695.8L770.2 694.7L771.1 693.7L772.1 692.7L773.0 691.8L774.1 691.0L775.2 690.1L776.4 689.4L777.6 688.7L778.8 688.2L780.1 687.8L781.4 687.4L782.7 687.0L784.0 686.7L785.4 686.5L786.7 686.3L788.1 686.1L789.4 685.9L790.8 685.8L792.1 685.7L793.5 685.6L794.9 685.5L796.2 685.4L797.6 685.4L798.9 685.4L800.3 685.3L801.6 685.3L803.0 685.3L804.4 685.3L805.7 685.3L807.1 685.2L808.4 685.2L809.8 685.2L811.2 685.2L812.5 685.2L813.9 685.2L815.2 685.2L816.6 685.2L818.0 685.2L819.3 685.2L820.7 685.2L822.0 685.2L823.4 685.2L824.7 685.2L826.1 685.2L827.5 685.2L828.8 685.2L830.2 685.2L831.5 685.2L832.9 685.2L834.3 685.2L835.6 685.2L837.0 685.2L838.3 685.2L839.7 685.2L841.1 685.2L842.4 685.2L843.8 685.2L845.1 685.2L846.5 685.2L847.8 685.2L849.2 685.2L850.6 685.2L851.9 685.2L853.3 685.2L854.6 685.2L856.0 685.2" stroke="#ff0000" stroke-width="1.25" fill="none" stroke-linejoin="round"/>
<path d="M660.3 721.8L660.9 723.2L661.6 724.6L662.2 726.0L662.8 727.4L663.3 728.8L663.9 730.2L664.4 731.6L664.9 733.0L665.3 734.5L665.8 735.9L666.2 737.4L666.6 738.9L667.1 740.3L667.4 741.8L667.8 743.3L668.2 744.7L668.5 746.2L668.9 747.7L669.2 749.2L669.6 750.7L669.9 752.2L670.2 753.6L670.5 755.1L670.8 756.6L671.0 758.1L671.3 759.6L671.6 761.1L671.9 762.6L672.2 764.1L672.4 765.6L672.7 767.1L673.0 768.6L673.2 770.1L673.5 771.6L673.7 773.1L674.0 774.6L674.2 776.1L674.5 777.6L674.7 779.1L675.0 780.6L675.2 782.1L675.5 783.6L675.7 785.1L675.9 786.6L676.2 788.1L676.4 789.6L676.6 791.1L676.8 792.6L677.0 794.1L677.2 795.6L677.4 797.1L677.6 798.6L677.7 800.1L677.9 801.6L678.1 803.1L678.2 804.6L678.4 806.1L678.5 807.7L678.7 809.2L678.8 810.7L679.0 812.2L679.1 813.7L679.3 815.2L679.4 816.7L679.6 818.2L679.7 819.8L679.8 821.3L680.0 822.8L680.1 824.3L680.2 825.8L680.4 827.3L680.5 828.8L680.6 830.4L680.8 831.9L680.9 833.4L681.0 834.9L681.1 836.4L681.3 837.9L681.4 839.4L681.5 840.9L681.6 842.5L681.8 844.0L681.9 845.5L682.0 847.0L682.1 848.5L682.2 850.0L682.4 851.5L682.5 853.1L682.6 854.6L682.7 856.1L682.8 857.6L682.9 859.1L683.1 860.6L683.2 862.1L683.3 863.7L683.4 865.2L683.5 866.7L683.7 868.2L683.8 869.7L683.9 871.2L684.0 872.7L684.1 874.3L684.2 875.8L684.3 877.3L684.5 878.8L684.6 880.3L684.7 881.8L684.8 883.3L684.9 884.9L685.0 886.4L685.2 887.9L685.3 889.4L685.4 890.9L685.5 892.4L685.7 893.9L685.8 895.5L685.9 897.0L686.1 898.5L686.2 900.0" stroke="#00ff00" stroke-width="1.25" fill="none" stroke-linejoin="round"/>
<path d="M729.0 900.0L729.1 898.7L729.2 897.3L729.3 896.0L729.4 894.7L729.5 893.3L729.6 892.0L729.6 890.7L729.7 889.3L729.8 888.0L729.9 886.7L729.9 885.3L730.0 884.0L730.1 882.7L730.1 881.3L730.2 880.0L730.3 878.7L730.3 877.3L730.4 876.0L730.4 874.7L730.5 873.3L730.5 872.0L730.6 870.7L730.7 869.3L730.7 868.0L730.8 866.7L730.8 865.3L730.9 864.0L730.9 862.7L731.0 861.3L731.1 860.0L731.1 858.7L731.2 857.3L731.2 856.0L731.3 854.7L731.4 853.3L731.4 852.0L731.5 850.7L731.5 849.3L731.6 848.0L731.7 846.6L731.7 845.3L731.8 844.0L731.9 842.6L731.9 841.3L732.0 840.0L732.0 838.6L732.1 837.3L732.2 836.0L732.2 834.6L732.3 833.3L732.4 832.0L732.4 830.6L732.5 829.3L732.5 828.0L732.6 826.6L732.7 825.3L732.7 824.0L732.8 822.6L732.9 821.3L732.9 820.0L733.0 818.6L733.1 817.3L733.1 816.0L733.2 814.6L733.3 813.3L733.4 812.0L733.4 810.6L733.5 809.3L733.6 808.0L733.7 806.6L733.7 805.3L733.8 804.0L733.9 802.6L734.0 801.3L734.1 800.0L734.2 798.6L734.3 797.3L734.3 796.0L734.4 794.6L734.5 793.3L734.6 792.0L734.7 790.6L734.8 789.3L734.9 788.0L735.0 786.6L735.0 785.3L735.1 784.0L735.2 782.6L735.3 781.3L735.4 780.0L735.5 778.6L735.6 777.3L735.6 776.0L735.7 774.6L735.8 773.3L735.9 772.0L736.0 770.6L736.0 769.3L736.1 768.0L736.2 766.6L736.3 765.3L736.4 764.0L736.5 762.6L736.6 761.3L736.6 760.0L736.7 758.7L736.8 757.3L736.9 756.0L737.0 754.7L737.1 753.3L737.2 752.0L737.3 750.7L737.4 749.3L737.5 748.0L737.7 746.7L737.8 745.3L737.9 744.0L738.0 742.7L738.1 741.3L738.2 740.0L738.4 738.7L738.5 737.3L738.6 736.0L738.7 734.7L738.9 733.4L739.0 732.0L739.2 730.7L739.3 729.4L739.4 728.1L739.6 726.7L739.8 725.4L739.9 724.1L740.1 722.7L740.3 721.4L740.4 720.1L740.6 718.8L740.8 717.4L741.0 716.1L741.2 714.8L741.4 713.5L741.7 712.2L741.9 710.9L742.2 709.6L742.5 708.3L742.8 707.0L743.1 705.7L743.4 704.4L743.8 703.1L744.3 701.8L744.7 700.5L745.2 699.3L745.7 698.1L746.2 696.8L746.8 695.6L747.5 694.4L748.2 693.3L748.9 692.2L749.7 691.2L750.7 690.2L751.6 689.2L752.7 688.4L753.8 687.8L755.0 687.2L756.3 686.8L757.6 686.4L758.9 686.2L760.2 685.9L761.6 685.7L762.9 685.6L764.2 685.5L765.6 685.4L766.9 685.4L768.2 685.4L769.6 685.3L770.9 685.3L772.2 685.3L773.6 685.3L774.9 685.3L776.3 685.3L777.6 685.2L778.9 685.2L780.3 685.2L781.6 685.2L782.9 685.2L784.3 685.2L785.6 685.2L786.9 685.2L788.3 685.2L789.6 685.2L791.0 685.2L792.3 685.2L793.6 685.2L795.0 685.2L796.3 685.2L797.6 685.2L799.0 685.2L800.3 685.2L801.6 685.2L803.0 685.2L804.3 685.2L805.6 685.2L807.0 685.2L808.3 685.2L809.7 685.2L811.0 685.2L812.3 685.2L813.7 685.2L815.0 685.2L816.3 685.2L817.7 685.2L819.0 685.1L820.3 685.1L821.7 685.0L823.0 685.0L824.3 684.9L825.7 684.7L827.0 684.5L828.3 684.3L829.6 684.0L830.9 683.8L832.2 683.6L833.6 683.3L834.9 683.1L836.2 682.9L837.5 682.6L838.9 682.4L840.2 682.2L841.5 682.1L842.8 682.0L844.2 682.0L845.5 682.1L846.8 682.2L848.1 682.4L849.5 682.6L850.8 682.8L852.1 683.1L853.4 683.3L854.7 683.7L856.0 684.0" stroke="#00ff00" stroke-width="1.25" fill="none" stroke-linejoin="round"/>
<path d="M660.3 732.5L660.6 734.5L660.9 736.5L661.2 738.5L661.4 740.5L661.7 742.5L662.0 744.5L662.3 746.5L662.6 748.5L662.9 750.6L663.1 752.6L663.4 754.6L663.7 756.6L664.0 758.6L664.3 760.6L664.6 762.6L664.8 764.6L665.1 766.6L665.3 768.6L665.6 770.6L665.8 772.6L666.0 774.7L666.2 776.7L666.4 778.7L666.6 780.7L666.8 782.7L667.0 784.7L667.2 786.8L667.3 788.8L667.5 790.8L667.7 792.8L667.9 794.8L668.0 796.9L668.2 798.9L668.3 800.9L668.5 802.9L668.7 804.9L668.8 807.0L669.0 809.0L669.1 811.0L669.3 813.0L669.4 815.0L669.5 817.1L669.7 819.1L669.8 821.1L670.0 823.1L670.1 825.1L670.2 827.2L670.3 829.2L670.5 831.2L670.6 833.2L670.7 835.3L670.8 837.3L670.9 839.3L671.0 841.3L671.2 843.3L671.3 845.4L671.4 847.4L671.5 849.4L671.6 851.4L671.7 853.5L671.8 855.5L671.9 857.5L672.0 859.5L672.2 861.6L672.3 863.6L672.4 865.6L672.5 867.6L672.6 869.6L672.7 871.7L672.8 873.7L672.9 875.7L673.0 877.7L673.1 879.8L673.2 881.8L673.3 883.8L673.4 885.8L673.5 887.9L673.6 889.9L673.7 891.9L673.8 893.9L673.9 896.0L674.0 898.0L674.1 900.0" stroke="#0000ff" stroke-width="1.25" fill="none" stroke-linejoin="round"/>
<path d="M717.0 900.0L717.0 898.6L717.0 897.3L717.1 895.9L717.1 894.6L717.1 893.2L717.1 891.9L717.1 890.5L717.2 889.1L717.2 887.8L717.2 886.4L717.2 885.1L717.3 883.7L717.3 882.4L717.3 881.0L717.3 879.6L717.4 878.3L717.4 876.9L717.4 875.6L717.4 874.2L717.5 872.9L717.5 871.5L717.5 870.1L717.5 868.8L717.6 867.4L717.6 866.1L717.6 864.7L717.7 863.3L717.7 862.0L717.7 860.6L717.7 859.3L717.8 857.9L717.8 856.6L717.8 855.2L717.9 853.8L717.9 852.5L717.9 851.1L718.0 849.8L718.0 848.4L718.0 847.1L718.1 845.7L718.1 844.3L718.1 843.0L718.2 841.6L718.2 840.3L718.2 838.9L718.3 837.6L718.3 836.2L718.3 834.8L718.4 833.5L718.4 832.1L718.4 830.8L718.5 829.4L718.5 828.1L718.6 826.7L718.6 825.3L718.6 824.0L718.7 822.6L718.7 821.3L718.8 819.9L718.8 818.6L718.9 817.2L718.9 815.8L718.9 814.5L719.0 813.1L719.0 811.8L719.1 810.4L719.1 809.1L719.2 807.7L719.2 806.3L719.3 805.0L719.3 803.6L719.4 802.3L719.4 800.9L719.4 799.6L719.5 798.2L719.5 796.8L719.6 795.5L719.6 794.1L719.7 792.8L719.7 791.4L719.7 790.1L719.8 788.7L719.8 787.3L719.9 786.0L719.9 784.6L720.0 783.3L720.0 781.9L720.0 780.6L720.1 779.2L720.1 777.8L720.2 776.5L720.2 775.1L720.3 773.8L720.3 772.4L720.4 771.1L720.4 769.7L720.5 768.4L720.5 767.0L720.6 765.6L720.6 764.3L720.7 762.9L720.7 761.6L720.8 760.2L720.8 758.9L720.9 757.5L720.9 756.1L721.0 754.8L721.1 753.4L721.1 752.1L721.2 750.7L721.2 749.4L721.3 748.0L721.3 746.6L721.4 745.3L721.5 743.9L721.5 742.6L721.6 741.2L721.6 739.9L721.7 738.5L721.8 737.1L721.8 735.8L721.9 734.4L722.0 733.1L722.1 731.7L722.1 730.4L722.2 729.0L722.3 727.7L722.4 726.3L722.5 725.0L722.6 723.6L722.6 722.2L722.7 720.9L722.9 719.5L723.0 718.2L723.1 716.8L723.2 715.5L723.3 714.1L723.5 712.8L723.6 711.4L723.7 710.1L723.9 708.7L724.1 707.4L724.2 706.0L724.4 704.7L724.6 703.3L724.8 702.0L725.0 700.6L725.3 699.3L725.6 698.0L725.9 696.7L726.2 695.4L726.7 694.1L727.2 692.8L727.9 691.5L728.5 690.4L729.3 689.3L730.2 688.3L731.3 687.3L732.4 686.7L733.6 686.2L735.0 685.8L736.3 685.5L737.7 685.4L739.0 685.3L740.4 685.3L741.7 685.3L743.1 685.3L744.4 685.2L745.8 685.2L747.2 685.2L748.5 685.2L749.9 685.2L751.3 685.2L752.6 685.2L754.0 685.2L755.4 685.2L756.7 685.2L758.1 685.2L759.5 685.2L760.8 685.2L762.2 685.2L763.6 685.2L764.9 685.1L766.3 685.1L767.6 685.1L768.9 685.1L770.3 685.1L771.6 685.1L772.9 684.8L774.2 684.4L775.5 683.8L776.8 683.4L778.1 682.9L779.4 682.4L780.7 681.8L782.0 681.3L783.2 681.1L784.5 681.0L785.9 681.2L787.2 681.6L788.5 682.0L789.8 682.5L791.1 682.9L792.4 683.3L793.7 683.8L795.0 684.2L796.3 684.5L797.6 684.7L799.0 685.0L800.3 685.1L801.7 685.1L803.0 685.1L804.4 685.1L805.7 685.2L807.1 685.2L808.5 685.2L809.8 685.2L811.2 685.2L812.5 685.2L813.9 685.2L815.3 685.2L816.6 685.2L818.0 685.2L819.3 685.2L820.7 685.2L822.1 685.2L823.4 685.2L824.8 685.2L826.1 685.2L827.5 685.2L828.8 685.2L830.2 685.2L831.6 685.2L832.9 685.2L834.3 685.2L835.6 685.2L837.0 685.2L838.3 685.2L839.7 685.2L841.1 685.2L842.4 685.2L843.8 685.2L845.1 685.2L846.5 685.2L847.9 685.2L849.2 685.2L850.6 685.2L851.9 685.2L853.3 685.2L854.6 685.2L856.0 685.2" stroke="#0000ff" stroke-width="1.25" fill="none" stroke-linejoin="round"/>
<path d="M660.3 737.4L660.5 739.7L660.7 742.0L660.9 744.3L661.1 746.5L661.3 748.8L661.5 751.1L661.7 753.4L661.9 755.7L662.1 758.0L662.3 760.3L662.6 762.5L662.8 764.8L663.1 767.1L663.3 769.4L663.6 771.7L663.8 774.0L664.1 776.2L664.3 778.5L664.5 780.8L664.6 783.1L664.8 785.4L665.0 787.7L665.2 790.0L665.3 792.3L665.5 794.5L665.7 796.8L665.8 799.1L666.0 801.4L666.1 803.7L666.3 806.0L666.4 808.3L666.6 810.6L666.7 812.9L666.8 815.2L667.0 817.5L667.1 819.7L667.2 822.0L667.4 824.3L667.5 826.6L667.6 828.9L667.8 831.2L667.9 833.5L668.0 835.8L668.1 838.1L668.2 840.4L668.3 842.7L668.4 845.0L668.6 847.3L668.7 849.5L668.8 851.8L668.9 854.1L669.0 856.4L669.1 858.7L669.2 861.0L669.3 863.3L669.4 865.6L669.4 867.9L669.5 870.2L669.6 872.5L669.7 874.8L669.8 877.1L669.9 879.4L670.0 881.7L670.1 883.9L670.2 886.2L670.3 888.5L670.4 890.8L670.5 893.1L670.6 895.4L670.7 897.7L670.8 900.0" stroke="#00ffff" stroke-width="1.25" fill="none" stroke-linejoin="round"/>
<path d="M709.1 900.0L709.1 898.5L709.1 897.1L709.2 895.6L709.2 894.1L709.2 892.6L709.2 891.2L709.3 889.7L709.3 888.2L709.3 886.7L709.3 885.3L709.4 883.8L709.4 882.3L709.4 880.8L709.4 879.4L709.5 877.9L709.5 876.4L709.5 874.9L709.5 873.5L709.6 872.0L709.6 870.5L709.6 869.0L709.6 867.6L709.7 866.1L709.7 864.6L709.7 863.1L709.7 861.7L709.8 860.2L709.8 858.7L709.8 857.2L709.8 855.8L709.9 854.3L709.9 852.8L709.9 851.3L710.0 849.9L710.0 848.4L710.0 846.9L710.0 845.4L710.1 844.0L710.1 842.5L710.1 841.0L710.1 839.5L710.2 838.1L710.2 836.6L710.2 835.1L710.3 833.6L710.3 832.2L710.3 830.7L710.3 829.2L710.4 827.7L710.4 826.3L710.4 824.8L710.4 823.3L710.5 821.8L710.5 820.4L710.5 818.9L710.5 817.4L710.6 815.9L710.6 814.5L710.6 813.0L710.6 811.5L710.6 810.0L710.7 808.6L710.7 807.1L710.7 805.6L710.7 804.1L710.7 802.7L710.8 801.2L710.8 799.7L710.8 798.2L710.8 796.8L710.8 795.3L710.9 793.8L710.9 792.3L710.9 790.9L710.9 789.4L711.0 787.9L711.0 786.4L711.0 785.0L711.0 783.5L711.0 782.0L711.1 780.5L711.1 779.1L711.1 777.6L711.2 776.1L711.2 774.6L711.2 773.2L711.3 771.7L711.3 770.2L711.3 768.7L711.4 767.3L711.4 765.8L711.5 764.3L711.5 762.8L711.6 761.4L711.7 759.9L711.7 758.4L711.8 756.9L711.9 755.5L711.9 754.0L712.0 752.5L712.0 751.1L712.1 749.6L712.2 748.1L712.2 746.6L712.3 745.2L712.3 743.7L712.4 742.2L712.4 740.7L712.5 739.3L712.5 737.8L712.6 736.3L712.6 734.8L712.7 733.4L712.7 731.9L712.8 730.4L712.9 728.9L712.9 727.5L713.0 726.0L713.1 724.5L713.1 723.0L713.2 721.6L713.3 720.1L713.4 718.6L713.4 717.2L713.5 715.7L713.6 714.2L713.7 712.7L713.8 711.3L713.9 709.8L714.1 708.3L714.2 706.9L714.3 705.4L714.5 703.9L714.7 702.4L714.9 701.0L715.1 699.5L715.3 698.1L715.6 696.6L715.8 695.2L716.2 693.7L716.6 692.2L717.1 690.8L717.7 689.5L718.5 688.3L719.5 687.2L720.7 686.4L722.1 685.9L723.6 685.5L725.0 685.4L726.5 685.3L728.0 685.3L729.4 685.3L730.9 685.2L732.4 685.2L733.9 685.2L735.4 685.2L736.9 685.2L738.3 685.2L739.8 685.2L741.3 685.2L742.8 685.2L744.3 685.1L745.7 685.1L747.2 685.1L748.5 684.8L749.9 684.1L751.2 683.4L752.6 682.7L753.9 681.9L755.2 681.1L756.6 680.8L757.9 681.0L759.3 681.7L760.7 682.4L762.0 683.0L763.3 683.8L764.7 684.4L766.1 684.9L767.5 685.1L768.9 685.1L770.4 685.1L771.8 685.1L773.3 685.2L774.8 685.2L776.3 685.2L777.7 685.2L779.2 685.2L780.7 685.2L782.2 685.2L783.7 685.2L785.2 685.2L786.7 685.2L788.1 685.2L789.6 685.2L791.1 685.2L792.6 685.2L794.0 685.2L795.5 685.2L797.0 685.2L798.5 685.2L799.9 685.2L801.4 685.2L802.9 685.2L804.4 685.2L805.8 685.2L807.3 685.2L808.8 685.2L810.3 685.2L811.7 685.2L813.2 685.2L814.7 685.2L816.2 685.2L817.6 685.2L819.1 685.2L820.6 685.2L822.1 685.2L823.5 685.2L825.0 685.2L826.5 685.2L828.0 685.2L829.4 685.2L830.9 685.2L832.4 685.2L833.9 685.2L835.3 685.2L836.8 685.2L838.3 685.2L839.8 685.2L841.2 685.2L842.7 685.2L844.2 685.2L845.7 685.2L847.1 685.2L848.6 685.2L850.1 685.2L851.6 685.2L853.0 685.2L854.5 685.2L856.0 685.2" stroke="#00ffff" stroke-width="1.25" fill="none" stroke-linejoin="round"/>
<path d="M660.3 740.7L660.4 742.9L660.6 745.2L660.8 747.4L660.9 749.7L661.1 751.9L661.3 754.2L661.4 756.4L661.6 758.6L661.8 760.9L662.0 763.1L662.2 765.4L662.4 767.6L662.6 769.8L662.8 772.1L663.1 774.3L663.3 776.5L663.5 778.8L663.7 781.0L663.9 783.3L664.0 785.5L664.2 787.7L664.4 790.0L664.6 792.2L664.8 794.5L664.9 796.7L665.1 798.9L665.3 801.2L665.4 803.4L665.6 805.7L665.8 807.9L665.9 810.2L666.0 812.4L666.2 814.6L666.3 816.9L666.4 819.1L666.5 821.4L666.6 823.6L666.7 825.9L666.8 828.1L666.9 830.4L667.0 832.6L667.0 834.8L667.1 837.1L667.2 839.3L667.3 841.6L667.4 843.8L667.4 846.1L667.5 848.3L667.6 850.6L667.6 852.8L667.7 855.1L667.8 857.3L667.8 859.6L667.9 861.8L668.0 864.0L668.0 866.3L668.1 868.5L668.2 870.8L668.2 873.0L668.3 875.3L668.3 877.5L668.4 879.8L668.5 882.0L668.5 884.3L668.6 886.5L668.7 888.8L668.7 891.0L668.8 893.3L668.9 895.5L668.9 897.8L669.0 900.0" stroke="#ff00ff" stroke-width="1.25" fill="none" stroke-linejoin="round"/>
<path d="M701.2 900.0L701.2 898.4L701.2 896.8L701.3 895.2L701.3 893.6L701.3 892.0L701.3 890.4L701.4 888.8L701.4 887.2L701.4 885.6L701.5 884.0L701.5 882.4L701.5 880.8L701.5 879.2L701.6 877.6L701.6 876.0L701.6 874.4L701.7 872.8L701.7 871.2L701.7 869.6L701.7 868.0L701.8 866.4L701.8 864.8L701.8 863.2L701.9 861.6L701.9 860.0L701.9 858.4L702.0 856.8L702.0 855.1L702.0 853.5L702.0 851.9L702.1 850.3L702.1 848.7L702.1 847.1L702.1 845.5L702.2 843.9L702.2 842.3L702.2 840.7L702.3 839.1L702.3 837.5L702.3 835.9L702.3 834.3L702.3 832.7L702.4 831.1L702.4 829.5L702.4 827.9L702.4 826.3L702.4 824.7L702.5 823.1L702.5 821.5L702.5 819.9L702.5 818.3L702.5 816.7L702.6 815.1L702.6 813.5L702.6 811.9L702.6 810.3L702.6 808.7L702.6 807.1L702.7 805.5L702.7 803.9L702.7 802.3L702.7 800.7L702.7 799.1L702.8 797.5L702.8 795.9L702.8 794.3L702.8 792.7L702.8 791.1L702.9 789.5L702.9 787.9L702.9 786.3L702.9 784.7L703.0 783.1L703.0 781.5L703.0 779.9L703.0 778.3L703.1 776.7L703.1 775.1L703.1 773.5L703.2 771.8L703.2 770.2L703.2 768.6L703.3 767.0L703.3 765.4L703.3 763.8L703.4 762.2L703.4 760.6L703.4 759.0L703.5 757.4L703.5 755.8L703.6 754.2L703.6 752.6L703.6 751.0L703.7 749.4L703.7 747.8L703.8 746.2L703.8 744.6L703.8 743.0L703.9 741.4L703.9 739.8L704.0 738.2L704.0 736.6L704.1 735.0L704.1 733.4L704.2 731.8L704.2 730.2L704.3 728.6L704.4 727.0L704.4 725.4L704.5 723.8L704.5 722.2L704.6 720.6L704.7 719.0L704.8 717.4L704.8 715.8L704.9 714.2L705.0 712.6L705.1 711.0L705.2 709.4L705.3 707.8L705.4 706.2L705.5 704.6L705.6 703.0L705.7 701.4L705.9 699.8L706.0 698.2L706.2 696.6L706.4 695.0L706.6 693.4L706.9 691.8L707.3 690.2L707.7 688.6L708.4 687.3L709.4 686.0L710.8 685.3L712.3 685.3L713.9 685.2L715.6 685.2L717.3 685.2L718.9 685.2L720.5 685.2L722.1 685.2L723.7 685.1L725.3 685.1L726.8 684.9L728.3 684.3L729.7 683.4L731.1 682.6L732.4 681.4L733.8 680.6L735.1 680.7L736.5 681.6L738.0 682.6L739.4 683.4L740.8 684.1L742.3 684.6L743.9 685.0L745.5 685.1L747.0 685.1L748.6 685.1L750.2 685.1L751.8 685.2L753.4 685.2L755.0 685.2L756.6 685.2L758.2 685.2L759.9 685.2L761.5 685.2L763.1 685.2L764.7 685.2L766.3 685.2L767.9 685.2L769.5 685.2L771.1 685.2L772.7 685.2L774.3 685.2L775.9 685.2L777.5 685.2L779.1 685.2L780.7 685.2L782.3 685.2L783.9 685.2L785.5 685.2L787.1 685.2L788.7 685.2L790.3 685.2L791.9 685.2L793.5 685.2L795.1 685.2L796.7 685.2L798.3 685.2L799.9 685.2L801.5 685.2L803.1 685.2L804.7 685.2L806.3 685.2L807.9 685.2L809.5 685.2L811.1 685.2L812.7 685.2L814.3 685.2L815.9 685.2L817.5 685.2L819.2 685.2L820.8 685.2L822.4 685.2L824.0 685.2L825.6 685.2L827.2 685.2L828.8 685.2L830.4 685.2L832.0 685.2L833.6 685.2L835.2 685.2L836.8 685.2L838.4 685.2L840.0 685.2L841.6 685.2L843.2 685.2L844.8 685.2L846.4 685.2L848.0 685.2L849.6 685.2L851.2 685.2L852.8 685.2L854.4 685.2L856.0 685.2" stroke="#ff00ff" stroke-width="1.4" fill="none" stroke-linejoin="round"/>
</g>
<g font-size="7.9px" stroke="#000" stroke-width="0.22">
<text x="658" y="688.0" text-anchor="end">0</text>
<text x="658" y="747.4" text-anchor="end">-20</text>
<text x="658" y="806.8" text-anchor="end">-40</text>
<text x="658" y="866.2" text-anchor="end">-60</text>
<text x="660.4" y="903.1" text-anchor="middle">104</text>
<text x="705.0" y="903.1" text-anchor="middle">105</text>
<text x="749.6" y="903.1" text-anchor="middle">106</text>
<text x="794.2" y="903.1" text-anchor="middle">107</text>
<text x="838.8" y="903.1" text-anchor="middle">108</text>
</g>
<text x="747.6" y="924.7" font-size="15.8px" font-weight="bold" stroke="#000" stroke-width="0.25" textLength="49.4" lengthAdjust="spacingAndGlyphs">T[MeV]</text>
<g transform="translate(631.1 823.6) rotate(-90) scale(0.3816 0.338)" fill="#000"><text transform="translate(0.00 0.00) scale(0.9094 1.0110) translate(-0.89 0)" font-size="44.7px" font-weight="bold" style="font-family:'Liberation Serif',serif">Π</text><rect x="31.3" y="9.5" width="5.5" height="4.1"/><text transform="translate(41.50 -0.47) scale(0.8726 0.9975) translate(-2.24 0)" font-size="44.7px" font-weight="bold" style="font-family:'Liberation Sans',sans-serif" stroke="#000" stroke-width="0.3" stroke-linejoin="round">(</text><path d="M55.3 -31.4H80.0V-25.5H71.1V0H64.9V-25.5H55.3Z"/><text transform="translate(84.50 -0.53) scale(1.0638 0.9567) translate(-3.04 0)" font-size="44.7px" font-weight="bold" style="font-family:'Liberation Sans',sans-serif" stroke="#000" stroke-width="0.4" stroke-linejoin="round">,</text><path d="M94.7 -31.4H101.9L109.2 -8.2L116.9 -31.4H123.8L113.1 0H105.4Z"/><text transform="translate(125.70 -0.47) scale(0.9123 0.9975) translate(-0.04 0)" font-size="44.7px" font-weight="bold" style="font-family:'Liberation Sans',sans-serif" stroke="#000" stroke-width="0.3" stroke-linejoin="round">)</text><path d="M142.0 8.1L153.6 -31.4" stroke="#000" stroke-width="3.3" fill="none"/><path d="M164.4 -27.7H170.6V0H164.4V-19.6L160.4 -17.6V-22.4Q163.6 -24 164.4 -27.7Z"/><path fill-rule="evenodd" d="M181.45 -13.7a10.3 14.3 0 1 0 20.6 0a10.3 14.3 0 1 0 -20.6 0ZM187.35 -13.7a4.4 9.1 0 1 0 8.8 0a4.4 9.1 0 1 0 -8.8 0Z"/><path fill-rule="evenodd" d="M206.40 -13.7a10.3 14.3 0 1 0 20.6 0a10.3 14.3 0 1 0 -20.6 0ZM212.30 -13.7a4.4 9.1 0 1 0 8.8 0a4.4 9.1 0 1 0 -8.8 0Z"/><path fill-rule="evenodd" d="M231.60 -13.7a10.3 14.3 0 1 0 20.6 0a10.3 14.3 0 1 0 -20.6 0ZM237.50 -13.7a4.4 9.1 0 1 0 8.8 0a4.4 9.1 0 1 0 -8.8 0Z"/></g>
</g>
</svg></body></html>
